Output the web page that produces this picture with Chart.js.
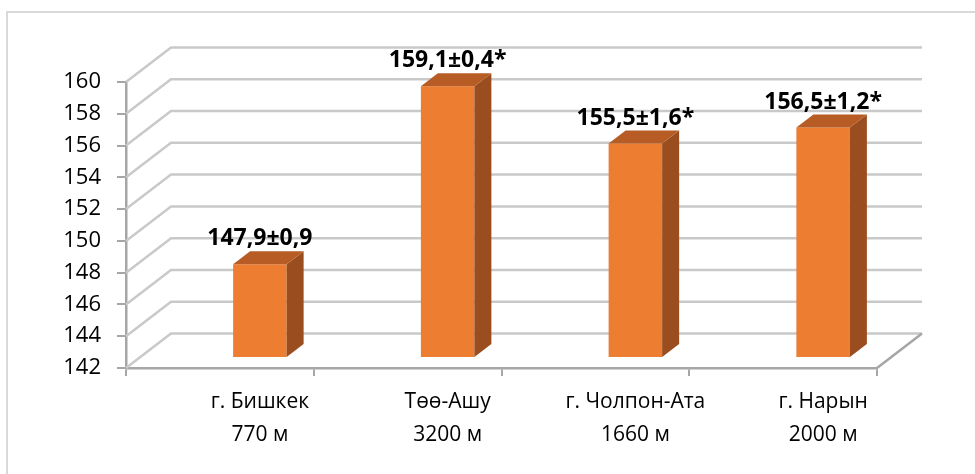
<!DOCTYPE html>
<html>
<head>
<meta charset="utf-8">
<script src="https://cdn.jsdelivr.net/npm/chart.js@4/dist/chart.umd.min.js"></script>
<style>
  html, body { margin: 0; padding: 0; background: #fff; }
  canvas { display: block; }
</style>
</head>
<body>
<canvas id="heightChart" width="975" height="474"></canvas>
<script>
// Средний рост по городам (см), ошибка среднего и значимость различий
const cities = ['г. Бишкек', 'Төө-Ашу', 'г. Чолпон-Ата', 'г. Нарын'];
const altitudes = [770, 3200, 1660, 2000];
const means = [147.9, 159.1, 155.5, 156.5];
const errors = [0.9, 0.4, 1.6, 1.2];
const significant = [false, true, true, true];
const yMin = 142;
const yMax = 160;
const yStep = 2;

const FONT = '"Open Sans", "Noto Sans", sans-serif';

// подписи: "147,9±0,9", звёздочка для значимых отличий
const valueLabels = means.map((m, i) =>
    m.toFixed(1).replace('.', ',') + '±' + errors[i].toFixed(1).replace('.', ',') + (significant[i] ? '*' : ''));

const categoryLabels = cities.map((c, i) => [c, altitudes[i] + ' м']);

// псевдо-3D: задняя стенка, смещение плоскости столбиков и их глубина
const wallDepth = { x: 45, y: -34.5 };
const barShift = { x: 40, y: -10 };
const barDepth = { x: 17, y: -13 };

const gridColor = '#c9c9c9';
const axisColor = '#a6a6a6';

const box3d = {
    id: 'box3d',
    beforeDraw(chart) {
        const ctx = chart.ctx;
        ctx.save();
        ctx.strokeStyle = '#d9d9d9';
        ctx.lineWidth = 2;
        ctx.strokeRect(7, 12, 1100, 600);
        ctx.restore();
    },
    beforeDatasetsDraw(chart) {
        const ctx = chart.ctx;
        const { left, right, bottom } = chart.chartArea;
        const y = chart.scales.y;
        ctx.save();
        ctx.strokeStyle = gridColor;
        ctx.lineWidth = 2.5;
        ctx.lineCap = 'butt';
        for (let v = yMin; v <= yMax; v += yStep) {
            const py = y.getPixelForValue(v);
            ctx.beginPath();
            ctx.moveTo(left, py);
            ctx.lineTo(left + wallDepth.x, py + wallDepth.y);
            ctx.lineTo(right + wallDepth.x, py + wallDepth.y);
            ctx.stroke();
        }
        // правая кромка пола
        ctx.strokeStyle = axisColor;
        ctx.beginPath();
        ctx.moveTo(right, bottom);
        ctx.lineTo(right + wallDepth.x, bottom + wallDepth.y);
        ctx.stroke();
        ctx.restore();

        // лицевые грани столбиков рисует сам Chart.js, в сдвинутой плоскости
        ctx.save();
        ctx.translate(barShift.x, barShift.y);
    },
    afterDatasetsDraw(chart) {
        const ctx = chart.ctx;
        ctx.restore();
        const meta = chart.getDatasetMeta(0);
        ctx.save();
        meta.data.forEach((bar, i) => {
            const x0 = bar.x - bar.width / 2 + barShift.x;
            const x1 = bar.x + bar.width / 2 + barShift.x;
            const top = bar.y + barShift.y;
            const base = bar.base + barShift.y;

            // боковая грань
            ctx.fillStyle = '#9a4e1f';
            ctx.beginPath();
            ctx.moveTo(x1, top);
            ctx.lineTo(x1 + barDepth.x, top + barDepth.y);
            ctx.lineTo(x1 + barDepth.x, base + barDepth.y);
            ctx.lineTo(x1, base);
            ctx.closePath();
            ctx.fill();

            // верхняя грань
            ctx.fillStyle = '#b65c24';
            ctx.beginPath();
            ctx.moveTo(x0, top);
            ctx.lineTo(x0 + barDepth.x, top + barDepth.y);
            ctx.lineTo(x1 + barDepth.x, top + barDepth.y);
            ctx.lineTo(x1, top);
            ctx.closePath();
            ctx.fill();

            ctx.fillStyle = '#000';
            ctx.font = 'bold 23px ' + FONT;
            ctx.textAlign = 'center';
            ctx.textBaseline = 'alphabetic';
            ctx.fillText(valueLabels[i], (x0 + x1) / 2, top - 19);
        });
        ctx.restore();
    }
};

const ctx = document.getElementById('heightChart').getContext('2d');
const heightChart = new Chart(ctx, {
    type: 'bar',
    data: {
        labels: categoryLabels,
        datasets: [{
            data: means,
            base: yMin,
            backgroundColor: '#ed7d31',
            borderWidth: 0,
            barPercentage: 0.285,
            categoryPercentage: 1
        }]
    },
    options: {
        responsive: false,
        animation: false,
        devicePixelRatio: 1,
        layout: {
            padding: { left: 0, top: 82, right: 98, bottom: 0 }
        },
        scales: {
            x: {
                grid: {
                    drawOnChartArea: false,
                    drawTicks: true,
                    tickLength: 8,
                    color: axisColor,
                    lineWidth: 2
                },
                border: { color: axisColor, width: 2.5 },
                ticks: {
                    padding: 10,
                    labelOffset: 40,
                    maxRotation: 0,
                    color: '#000',
                    font: { family: FONT, size: 21, lineHeight: 1.55 }
                },
                afterFit(scale) { scale.height = 106; }
            },
            y: {
                min: yMin,
                max: yMax,
                grid: {
                    drawOnChartArea: false,
                    drawTicks: true,
                    tickLength: 9,
                    color: axisColor,
                    lineWidth: 2
                },
                border: { color: axisColor, width: 2.5 },
                ticks: {
                    stepSize: yStep,
                    padding: 16,
                    color: '#000',
                    font: { family: FONT, size: 22 }
                },
                afterFit(scale) { scale.width = 126; }
            }
        },
        plugins: {
            legend: { display: false },
            tooltip: { enabled: false }
        }
    },
    plugins: [box3d]
});
</script>
</body>
</html>
